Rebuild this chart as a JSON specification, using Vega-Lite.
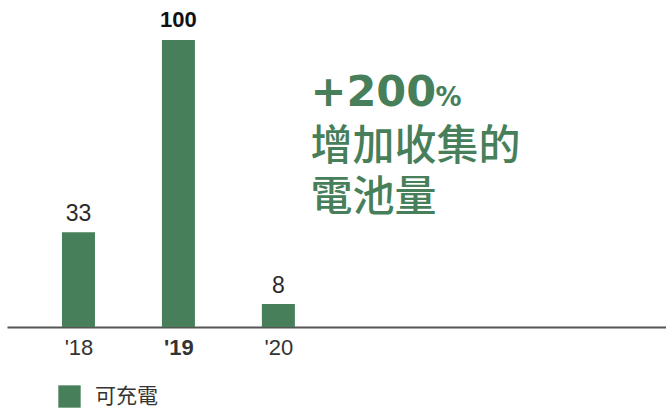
{
  "$schema": "https://vega.github.io/schema/vega-lite/v6.json",
  "autosize": "none",
  "width": 659,
  "height": 287,
  "padding": {"left": 7, "top": 40, "right": 0, "bottom": 84},
  "background": "white",
  "config": {"view": {"stroke": null}},
  "data": {
    "values": [
      {"year": 2018, "value": 33, "series": "可充電"},
      {"year": 2019, "value": 100, "series": "可充電"},
      {"year": 2020, "value": 8, "series": "可充電"}
    ]
  },
  "layer": [
    {
      "encoding": {
        "x": {
          "field": "year",
          "type": "quantitative",
          "scale": {"domain": [2017.335, 2023.828], "nice": false, "zero": false},
          "axis": {
            "title": null,
            "ticks": false,
            "grid": false,
            "values": [2018, 2019, 2020],
            "labelExpr": "\"'\" + (datum.value - 2000)",
            "labelFont": "Liberation Sans",
            "labelFontSize": 22,
            "labelColor": "#333333",
            "labelPadding": 10,
            "labelFlush": false,
            "labelFontWeight": {"condition": {"test": "datum.value === 2019", "value": "bold"}, "value": "normal"},
            "domainColor": "#555555",
            "domainWidth": 2
          }
        },
        "y": {"field": "value", "type": "quantitative", "scale": {"domain": [0, 100], "nice": false}, "axis": null}
      },
      "layer": [
        {
          "mark": {"type": "bar", "width": 33},
          "encoding": {
            "color": {
              "field": "series",
              "type": "nominal",
              "scale": {"range": ["#477F5B"]},
              "legend": {
                "title": null,
                "orient": "none",
                "legendX": 51,
                "legendY": 345,
                "symbolType": "square",
                "symbolSize": 500,
                "symbolStrokeWidth": 0,
                "labelFont": "Noto Sans CJK TC",
                "labelFontSize": 21,
                "labelColor": "#333333",
                "labelOffset": 14
              }
            }
          }
        },
        {
          "transform": [{"filter": "datum.year !== 2019"}],
          "mark": {"type": "text", "baseline": "alphabetic", "dy": -11, "font": "Liberation Sans", "fontSize": 23, "color": "#2a2a2a"},
          "encoding": {"text": {"field": "value", "type": "quantitative"}}
        },
        {
          "transform": [{"filter": "datum.year === 2019"}],
          "mark": {"type": "text", "baseline": "alphabetic", "dy": -13, "font": "Liberation Sans", "fontSize": 22, "fontWeight": "bold", "color": "#111111"},
          "encoding": {"text": {"field": "value", "type": "quantitative"}}
        }
      ]
    },
    {
      "data": {"values": [{"big": "+200", "pct": "%", "line1": "增加收集的", "line2": "電池量"}]},
      "layer": [
        {
          "mark": {"type": "text", "align": "left", "baseline": "alphabetic", "dx": 32, "font": "DejaVu Sans", "fontSize": 43, "fontWeight": "bold", "color": "#477F5B"},
          "encoding": {
            "x": {"datum": 2020, "type": "quantitative"},
            "y": {"datum": 77, "type": "quantitative"},
            "text": {"field": "big"}
          }
        },
        {
          "mark": {"type": "text", "align": "left", "baseline": "alphabetic", "dx": 157, "font": "DejaVu Sans", "fontSize": 26, "fontWeight": "bold", "color": "#477F5B"},
          "encoding": {
            "x": {"datum": 2020, "type": "quantitative"},
            "y": {"datum": 77, "type": "quantitative"},
            "text": {"field": "pct"}
          }
        },
        {
          "mark": {"type": "text", "align": "left", "baseline": "middle", "dx": 32, "font": "Noto Sans CJK TC", "fontSize": 42, "fontWeight": 500, "color": "#477F5B"},
          "encoding": {
            "x": {"datum": 2020, "type": "quantitative"},
            "y": {"datum": 62.7, "type": "quantitative"},
            "text": {"field": "line1"}
          }
        },
        {
          "mark": {"type": "text", "align": "left", "baseline": "middle", "dx": 32, "font": "Noto Sans CJK TC", "fontSize": 42, "fontWeight": 500, "color": "#477F5B"},
          "encoding": {
            "x": {"datum": 2020, "type": "quantitative"},
            "y": {"datum": 45, "type": "quantitative"},
            "text": {"field": "line2"}
          }
        }
      ]
    }
  ]
}
